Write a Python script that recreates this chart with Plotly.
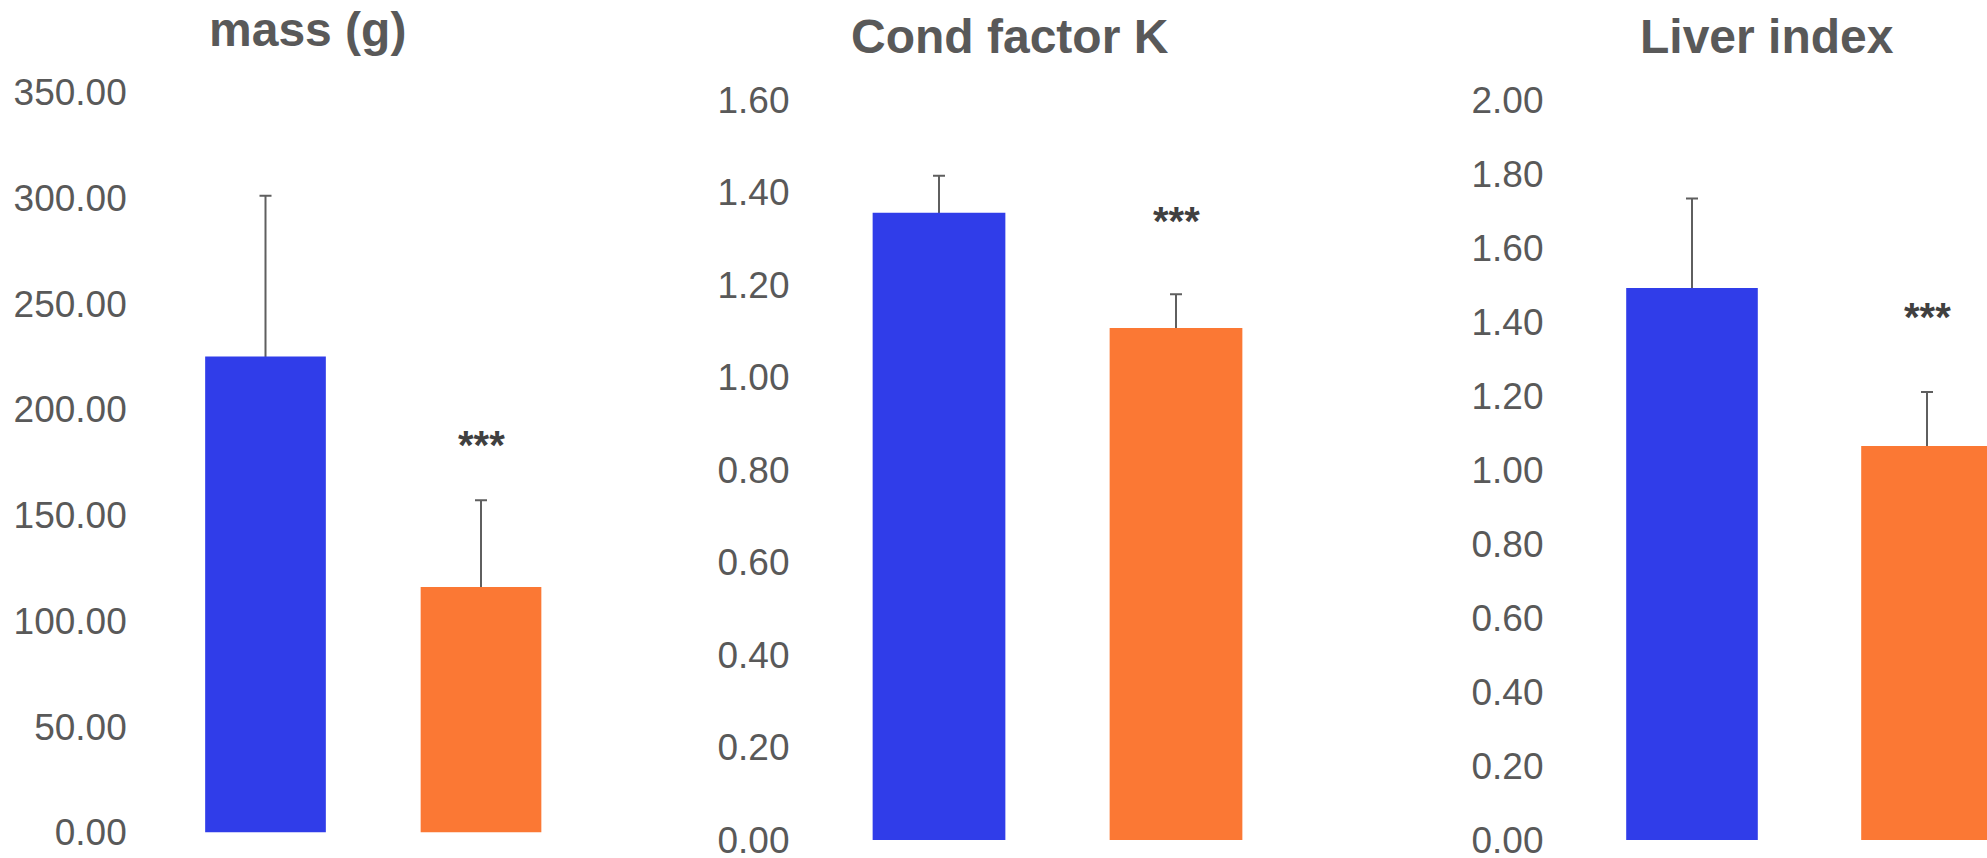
import plotly.graph_objects as go

# ---- data ----
groups = ["Control", "Treated"]
mass_mean = [225.0, 116.0]
mass_sd = [76.0, 41.0]
k_mean = [1.356, 1.107]
k_sd = [0.080, 0.073]
liver_mean = [1.492, 1.065]
liver_sd = [0.242, 0.146]
titles = ["mass (g)", "Cond factor K", "Liver index"]
sig_label = "***"
sig_height = [188.0, 1.36, 1.44]   # vertical position of the "***" marks (data units)
y_max = [350, 1.6, 2.0]
y_step = [50, 0.2, 0.2]

colors = ["#303DE9", "#FB7834"]
W, H = 1987, 858

fig = go.Figure()

means = [mass_mean, k_mean, liver_mean]
sds = [mass_sd, k_sd, liver_sd]
xpos = list(range(len(groups)))

for i in range(3):
    ax = "" if i == 0 else str(i + 1)
    # error bars (drawn underneath, on an invisible bar trace); the lower cap is
    # tucked a few pixels inside the bar so the opaque bar on top hides it
    hide = [0.012 * y_max[i]] * len(groups)
    fig.add_trace(go.Bar(
        x=xpos, y=means[i], width=0.56,
        marker=dict(color="rgba(0,0,0,0)", line=dict(width=0)),
        error_y=dict(type="data", array=sds[i], arrayminus=hide,
                     symmetric=False, color="#5F5F5F", thickness=2, width=6),
        xaxis="x" + ax, yaxis="y" + ax, showlegend=False, hoverinfo="skip",
    ))
    # visible bars on top
    fig.add_trace(go.Bar(
        x=xpos, y=means[i], width=0.56,
        marker=dict(color=colors, line=dict(width=0)),
        xaxis="x" + ax, yaxis="y" + ax, showlegend=False, hoverinfo="skip",
    ))

# pixel-based layout helpers
def px_x(p):
    return p / W

def px_y(p):
    return 1 - p / H

tick_font = dict(family="Liberation Sans, Arial, sans-serif", size=37, color="#595959")

x_domains = [[px_x(157.75), px_x(588.75)], [px_x(820.5), px_x(1294.5)], [px_x(1574.5), 1.0]]
x_ranges = [[-0.5, 1.5], [-0.5, 1.5], [-0.5, 1.5 - (2044.5 - W) / 235.0]]
y_domains = [[px_y(832.5), px_y(92)], [px_y(840), px_y(100)], [px_y(840), px_y(100)]]

layout = dict(
    width=W, height=H,
    margin=dict(l=0, r=0, t=0, b=0, pad=0, autoexpand=False),
    paper_bgcolor="white", plot_bgcolor="white",
    barmode="overlay",
)
for i in range(3):
    ax = "" if i == 0 else str(i + 1)
    layout["xaxis" + ax] = dict(
        domain=x_domains[i], range=x_ranges[i], anchor="y" + ax,
        showgrid=False, zeroline=False, showline=False, showticklabels=False,
        ticks="", fixedrange=True, automargin=False,
    )
    layout["yaxis" + ax] = dict(
        domain=y_domains[i], range=[0, y_max[i]], anchor="x" + ax,
        dtick=y_step[i], tick0=0, tickformat=".2f",
        showgrid=False, zeroline=False, showline=False, ticks="",
        tickfont=tick_font, ticklabelstandoff=30, fixedrange=True,
        automargin=False, ticklabeloverflow="allow",
    )
fig.update_layout(**layout)

title_pos = [(307, 29), (1010, 36), (1767, 36)]
for i, t in enumerate(titles):
    fig.add_annotation(
        text=f"<b>{t}</b>", xref="paper", yref="paper",
        x=px_x(title_pos[i][0]), y=px_y(title_pos[i][1]),
        xanchor="center", yanchor="middle", showarrow=False,
        font=dict(family="Liberation Sans, Arial, sans-serif", size=48, color="#595959"),
    )

for i in range(3):
    ax = "" if i == 0 else str(i + 1)
    fig.add_annotation(
        text=f"<b>{sig_label}</b>", xref="x" + ax, yref="y" + ax,
        x=xpos[1], y=sig_height[i], yshift=-10,
        xanchor="center", yanchor="middle", showarrow=False,
        font=dict(family="Liberation Sans, Arial, sans-serif", size=40, color="#404040"),
    )

fig.write_html(
    "out.html",
    config={"displayModeBar": False, "staticPlot": True},
    post_script="document.body.style.margin='0';document.body.style.overflow='hidden';",
)
